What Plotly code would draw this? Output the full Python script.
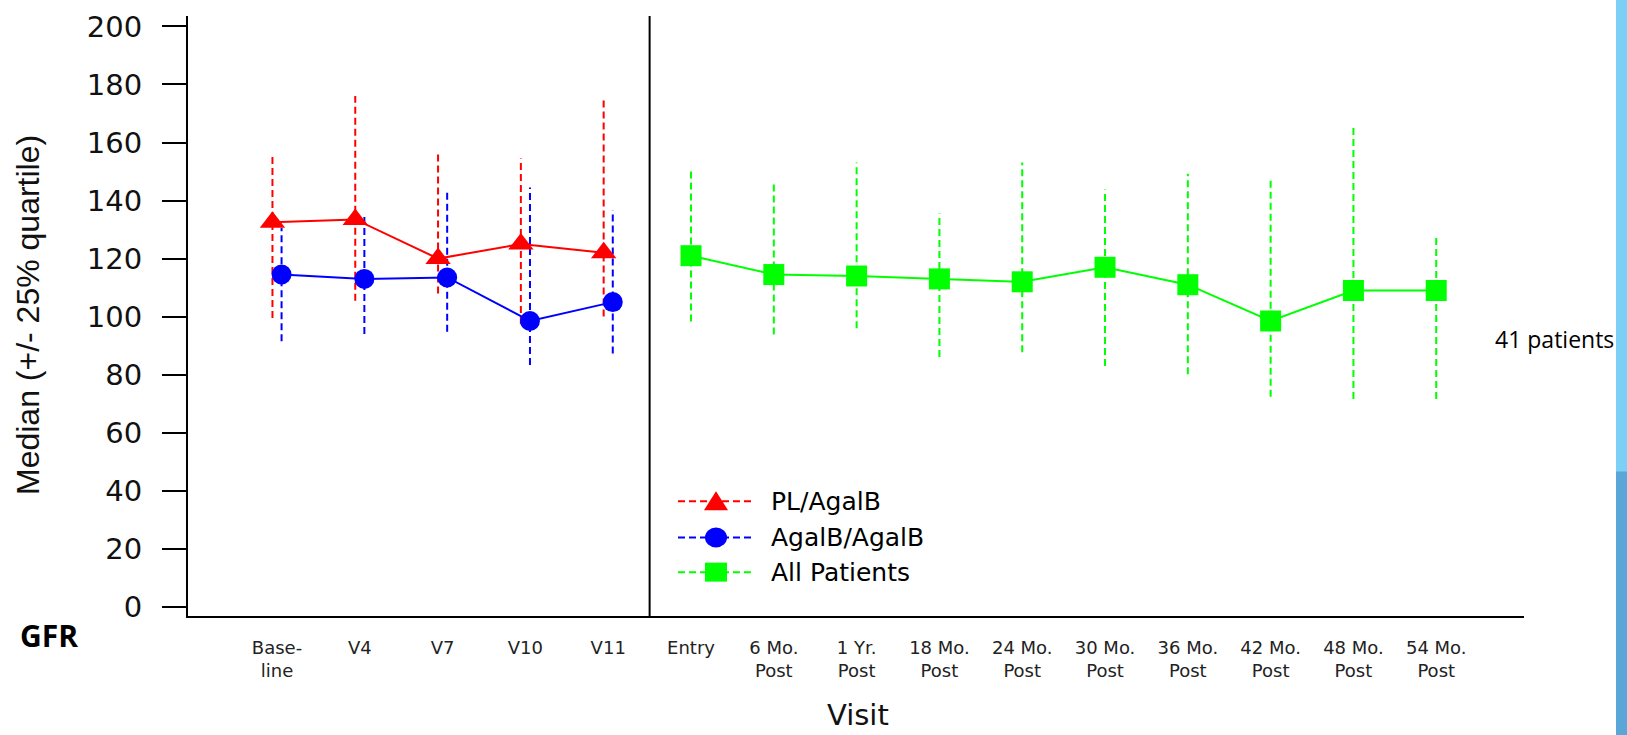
import plotly.graph_objects as go

# ---------------- data ----------------
visit_labels = ["Base-<br>line", "V4", "V7", "V10", "V11", "Entry",
                "6 Mo.<br>Post", "1 Yr.<br>Post", "18 Mo.<br>Post", "24 Mo.<br>Post",
                "30 Mo.<br>Post", "36 Mo.<br>Post", "42 Mo.<br>Post", "48 Mo.<br>Post",
                "54 Mo.<br>Post"]
blind_idx = [0, 1, 2, 3, 4]
open_idx = [5, 6, 7, 8, 9, 10, 11, 12, 13, 14]

series_names = ["PL/AgalB", "AgalB/AgalB", "All Patients"]

pl_median = [132.5, 133.5, 120.0, 125.0, 122.0]
pl_q1 = [99.5, 105.5, 108.0, 97.5, 100.0]
pl_q3 = [155.5, 176.0, 157.0, 154.5, 174.5]

ag_median = [114.5, 113.0, 113.5, 98.5, 105.0]
ag_q1 = [91.5, 94.0, 94.8, 83.3, 87.3]
ag_q3 = [130.5, 134.5, 144.0, 144.5, 136.7]

all_median = [121.0, 114.5, 114.0, 113.0, 112.0, 117.0, 111.0, 98.5, 109.0, 109.0]
all_q1 = [98.3, 93.8, 96.0, 86.1, 87.7, 83.0, 80.1, 72.4, 71.6, 71.6]
all_q3 = [150.9, 146.8, 153.1, 135.5, 153.1, 143.8, 149.2, 146.8, 165.3, 128.4]

y_ticks = [0, 20, 40, 60, 80, 100, 120, 140, 160, 180, 200]

# ---------------- styling ----------------
RED, BLUE, GREEN = "#ff0000", "#0000ff", "#00ff00"
DASH = "7px,4px"
OFF = 0.055  # small horizontal dodge of the two blinded groups


def whiskers(xs, lo, hi):
    wx, wy = [], []
    for x, a, b in zip(xs, lo, hi):
        wx += [x, x, None]
        wy += [a, b, None]
    return wx, wy


fig = go.Figure()

groups = [
    (series_names[0], [i - OFF for i in blind_idx], pl_median, pl_q1, pl_q3, RED, "triangle-up", 22),
    (series_names[1], [i + OFF for i in blind_idx], ag_median, ag_q1, ag_q3, BLUE, "circle", 20),
    (series_names[2], list(open_idx), all_median, all_q1, all_q3, GREEN, "square", 21),
]

for name, xs, med, lo, hi, col, sym, sz in groups:
    wx, wy = whiskers(xs, lo, hi)
    fig.add_trace(go.Scatter(x=wx, y=wy, mode="lines", showlegend=False,
                             line=dict(color=col, width=2, dash=DASH), hoverinfo="skip"))
for name, xs, med, lo, hi, col, sym, sz in groups:
    fig.add_trace(go.Scatter(x=xs, y=med, mode="lines+markers", name=name, showlegend=False,
                             line=dict(color=col, width=2),
                             marker=dict(symbol=sym, size=sz, color=col, line=dict(width=0))))

L, R, T, B = 188, 1627 - 1524, 10, 735 - 616
PW, PH = 1627 - L - R, 735 - T - B


def px(xp):
    return (xp - L) / PW


def py(yp):
    return (735 - B - yp) / PH


shapes = [dict(type="line", xref="x", yref="paper", x0=4.5, x1=4.5, y0=0, y1=1,
               line=dict(color="black", width=2))]

# custom legend
rows = [500, 536.7, 571.7]
annotations = []
for (name, xs, med, lo, hi, col, sym, sz), ry in zip(groups, rows):
    yy = py(ry)
    shapes.append(dict(type="line", xref="paper", yref="paper", x0=px(678), x1=px(752),
                       y0=yy, y1=yy, line=dict(color=col, width=2, dash=DASH)))
    common = dict(xref="paper", yref="paper", xsizemode="pixel", ysizemode="pixel",
                  xanchor=px(716), yanchor=yy, fillcolor=col, line=dict(width=0))
    if sym == "triangle-up":
        shapes.append(dict(type="path", path="M-12,-9 L12,-9 L0,10 Z", **common))
    elif sym == "circle":
        shapes.append(dict(type="circle", x0=-11, x1=11, y0=-10, y1=10, **common))
    else:
        shapes.append(dict(type="rect", x0=-11, x1=11, y0=-9.5, y1=9.5, **common))
    annotations.append(dict(text=name, xref="paper", yref="paper", x=px(769), y=yy,
                            xanchor="left", yanchor="middle", showarrow=False,
                            font=dict(family="DejaVu Sans", size=25, color="black")))

# right decorative strip
shapes.append(dict(type="rect", xref="paper", yref="paper", x0=px(1616), x1=px(1640),
                   y0=py(-10), y1=py(760), fillcolor="#7cd0f6", line=dict(width=0), layer="below"))
shapes.append(dict(type="rect", xref="paper", yref="paper", x0=px(1616), x1=px(1640),
                   y0=py(470), y1=py(760), fillcolor="#5aa6d8", line=dict(width=0), layer="below"))

annotations += [
    dict(text="Median (+/- 25% quartile)", xref="paper", yref="paper", x=px(28), y=py(312),
         textangle=-90, showarrow=False, xanchor="center", yanchor="middle",
         font=dict(family="Liberation Sans", size=32, color="#111")),
    dict(text="Visit", xref="paper", yref="paper", x=px(858), y=py(716), showarrow=False,
         xanchor="center", yanchor="middle", font=dict(family="DejaVu Sans", size=29, color="#111")),
    dict(text="<b>GFR</b>", xref="paper", yref="paper", x=px(49), y=py(636), showarrow=False,
         xanchor="center", yanchor="middle", font=dict(family="Open Sans", size=30, color="black")),
    dict(text="41 patients", xref="paper", yref="paper", x=px(1554), y=py(336), showarrow=False,
         xanchor="center", yanchor="middle", font=dict(family="Open Sans", size=23, color="black")),
]

fig.update_layout(
    width=1627, height=735, autosize=False,
    margin=dict(l=L, r=R, t=T, b=B, pad=0),
    paper_bgcolor="white", plot_bgcolor="white",
    showlegend=False,
    shapes=shapes, annotations=annotations,
    xaxis=dict(range=[-1.075, 15.06], tickmode="array", tickvals=list(range(len(visit_labels))),
               ticktext=visit_labels, showline=True, linecolor="black", linewidth=2,
               ticks="", showgrid=False, zeroline=False, ticklabelstandoff=14,
               tickfont=dict(family="DejaVu Sans", size=18, color="#222")),
    yaxis=dict(range=[-3.17, 203.6], tickmode="array", tickvals=y_ticks,
               showline=True, linecolor="black", linewidth=2, ticks="outside", ticklen=24,
               tickwidth=2, tickcolor="black", showgrid=False, zeroline=False,
               ticklabelstandoff=14, ticklabeloverflow="allow",
               tickfont=dict(family="DejaVu Sans", size=29, color="#111")),
)

fig.write_html("out.html")
